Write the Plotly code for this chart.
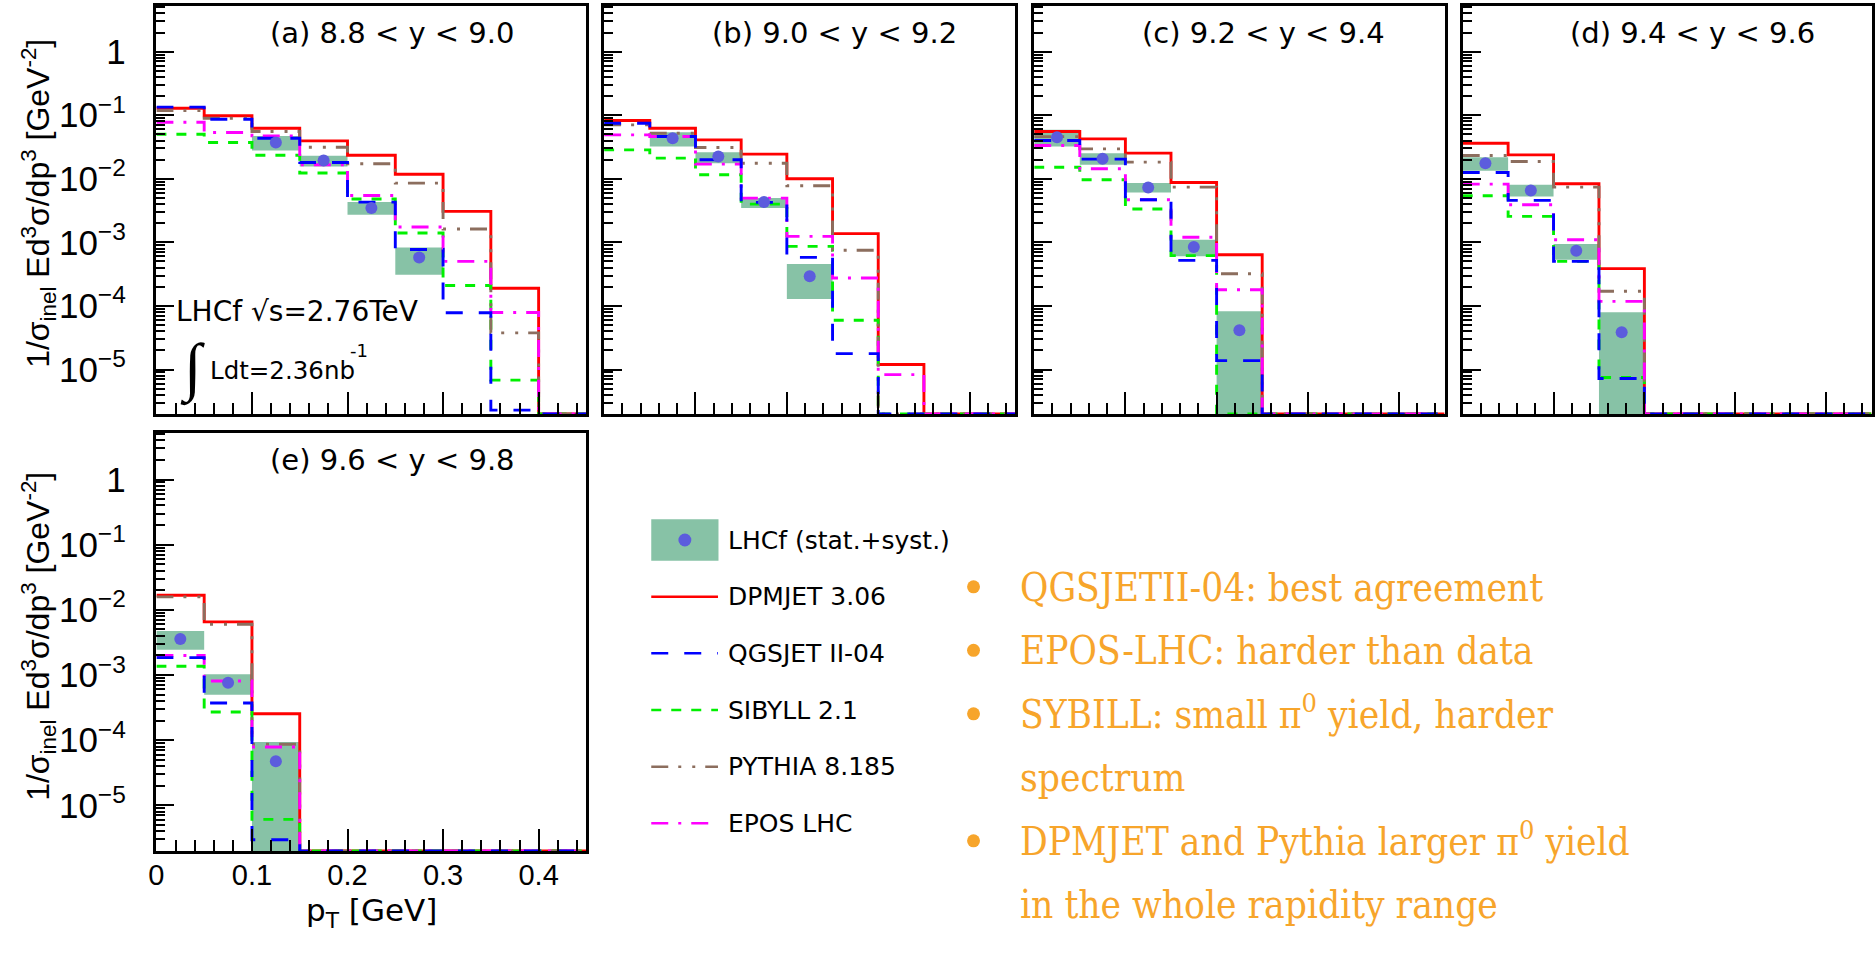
import plotly.graph_objects as go

W, H = 1875, 954

# pT binning shared by every rapidity slice
PT_EDGES = [0.0, 0.05, 0.10, 0.15, 0.20, 0.25, 0.30, 0.35, 0.40, 0.45]

PANEL_TITLES = ["(a) 8.8 < y < 9.0", "(b) 9.0 < y < 9.2", "(c) 9.2 < y < 9.4",
                "(d) 9.4 < y < 9.6", "(e) 9.6 < y < 9.8"]

# Model predictions, one list of 9 bin contents per rapidity slice (0 = empty bin)
DPMJET = [
    [0.129, 0.098, 0.0625, 0.0395, 0.0235, 0.0118, 0.00307, 1.9e-4, 0],
    [0.0824, 0.0625, 0.041, 0.0244, 0.010, 0.00137, 1.2e-5, 0, 0],
    [0.0554, 0.0425, 0.0253, 0.00875, 6.4e-4, 0, 0, 0, 0],
    [0.0363, 0.0238, 0.00834, 3.86e-4, 0, 0, 0, 0, 0],
    [0.01675, 0.00653, 2.55e-4, 0, 0, 0, 0, 0, 0],
]
QGSJET = [
    [0.134, 0.0865, 0.0435, 0.018, 0.0043, 7.7e-4, 7.8e-5, 2.3e-6, 0],
    [0.0748, 0.0462, 0.0199, 0.00425, 5.8e-4, 1.78e-5, 0, 0, 0],
    [0.040, 0.0204, 0.00468, 5.2e-4, 1.38e-5, 0, 0, 0, 0],
    [0.01257, 0.00457, 5.03e-4, 7.2e-6, 0, 0, 0, 0, 0],
    [0.00185, 3.73e-4, 2.97e-6, 0, 0, 0, 0, 0, 0],
]
SIBYLL = [
    [0.0503, 0.0372, 0.0235, 0.0123, 0.0048, 0.0014, 2.1e-4, 6.8e-6, 0],
    [0.0285, 0.0211, 0.01155, 0.0040, 8.65e-4, 5.96e-5, 0, 0, 0],
    [0.0152, 0.00964, 0.00334, 6.18e-4, 0, 0, 0, 0, 0],
    [0.0054, 0.00256, 5.03e-4, 7.5e-6, 0, 0, 0, 0, 0],
    [0.00136, 2.71e-4, 6.1e-6, 0, 0, 0, 0, 0, 0],
]
PYTHIA = [
    [0.118, 0.0897, 0.0554, 0.0314, 0.0172, 0.00855, 0.00162, 3.77e-5, 0],
    [0.0705, 0.0521, 0.031, 0.0176, 0.00776, 7.5e-4, 0, 0, 0],
    [0.046, 0.0296, 0.0183, 0.0074, 3.2e-4, 0, 0, 0, 0],
    [0.0232, 0.0187, 0.0074, 1.7e-4, 0, 0, 0, 0, 0],
    [0.0158, 0.0060, 8.65e-5, 0, 0, 0, 0, 0, 0],
]
EPOS = [
    [0.0776, 0.0534, 0.0473, 0.0166, 0.00547, 0.00174, 5.03e-4, 7.9e-5, 0],
    [0.0491, 0.0462, 0.017, 0.00497, 0.00124, 2.75e-4, 8.3e-6, 0, 0],
    [0.0334, 0.01436, 0.00468, 0.0012, 1.8e-4, 0, 0, 0, 0],
    [0.00824, 0.00391, 0.0011, 1.18e-4, 0, 0, 0, 0, 0],
    [0.00199, 8.1e-4, 7.87e-5, 0, 0, 0, 0, 0, 0],
]

# LHCf measurement: first filled bin, central values and stat.+syst. band limits
LHCF_FIRST_BIN = [2, 1, 0, 0, 0]
LHCF_VALUE = [
    [0.0372, 0.0194, 0.00346, 5.8e-4],
    [0.0435, 0.0224, 0.0043, 2.92e-4],
    [0.0451, 0.0206, 0.00731, 8.45e-4, 4.15e-5],
    [0.0176, 0.00656, 7.4e-4, 3.86e-5],
    [0.00358, 7.64e-4, 4.74e-5],
]
LHCF_LOW = [
    [0.0279, 0.0156, 0.00272, 3.1e-4],
    [0.0322, 0.0176, 0.00346, 1.29e-4],
    [0.0322, 0.0166, 0.0061, 6.03e-4, 0],
    [0.01336, 0.00528, 5.35e-4, 0],
    [0.00245, 5.0e-4, 0],
]
LHCF_HIGH = [
    [0.0473, 0.023, 0.0043, 8.3e-4],
    [0.054, 0.0262, 0.00497, 4.57e-4],
    [0.0589, 0.0253, 0.00855, 0.0011, 8.25e-5],
    [0.0219, 0.00805, 9.4e-4, 7.96e-5],
    [0.00475, 0.00103, 9.4e-5],
]

LEGEND_LABELS = ["LHCf (stat.+syst.)", "DPMJET 3.06", "QGSJET II-04", "SIBYLL 2.1",
                 "PYTHIA 8.185", "EPOS LHC"]

NOTES = [
    "QGSJETII-04: best agreement",
    "EPOS-LHC: harder than data",
    "SYBILL: small \u03c0<sup>0</sup> yield, harder",
    "spectrum",
    "DPMJET and Pythia larger \u03c0<sup>0</sup> yield",
    "in the whole rapidity range",
]
NOTE_BULLETS = [True, True, True, False, True, False]

# ---------------------------------------------------------------- styling
Y_MIN, Y_MAX = -5.70, 0.718
FLOOR = 10 ** Y_MIN
SANS = "DejaVu Sans"
TICK_FONT = dict(family="Liberation Sans", size=28, color="black")
BOX_COLOR = "#87C2A6"
DOT_COLOR = "#5C5CDD"
ORANGE = "#F7A52B"

MODELS = [
    ("DPMJET 3.06", DPMJET, "#FF0000", "solid"),
    ("SIBYLL 2.1", SIBYLL, "#00F000", "10px,10px"),
    ("PYTHIA 8.185", PYTHIA, "#8C6E5E", "17px,10px,3px,11px,3px,10px"),
    ("EPOS LHC", EPOS, "#FF00FF", "17px,10px,3px,10px"),
    ("QGSJET II-04", QGSJET, "#0000FF", "17px,16px"),
]
LEGEND_STYLE = {name: (color, dash) for name, _, color, dash in MODELS}

# frame of each pad in pixels: left, right, top, bottom
PANEL_BOX = [
    (149.2, 581.5, 6.0, 414.0),
    (599.3, 1012.7, 6.0, 414.0),
    (1031.7, 1444.3, 6.0, 414.0),
    (1462.5, 1873.5, 6.0, 414.0),
    (149.2, 581.5, 432.7, 851.0),
]
# vertical centre of the rotated y title for pads (a) and (e)
YTITLE_CENTER = {0: 203.0, 4: 636.0}


def px_x(x):
    return x / W


def px_y(y):
    return 1 - y / H


def clip(v):
    return max(v, FLOOR)


fig = go.Figure()
layout = dict(
    width=W, height=H, margin=dict(l=0, r=0, t=0, b=0),
    paper_bgcolor="white", plot_bgcolor="white", showlegend=False,
    font=dict(family=SANS, color="black"),
)
annotations = []
shapes = []

for i, (l, r, t, b) in enumerate(PANEL_BOX):
    sfx = "" if i == 0 else str(i + 1)
    xname, yname = "x" + sfx, "y" + sfx
    labels = i in (0, 4)
    layout["xaxis" + sfx] = dict(
        domain=[px_x(l), px_x(r)], anchor=yname, range=[0, 0.45],
        tick0=0, dtick=0.1, ticks="inside", ticklen=22, tickwidth=2, tickcolor="black",
        minor=dict(dtick=0.02, tick0=0, ticks="inside", ticklen=11, tickwidth=2,
                   tickcolor="black", showgrid=False),
        showticklabels=(i == 4), tickfont=dict(TICK_FONT, size=29), ticklabelstandoff=-4,
        showline=True, linewidth=3, linecolor="black", mirror=True,
        showgrid=False, zeroline=False, fixedrange=True,
    )
    layout["yaxis" + sfx] = dict(
        domain=[px_y(b), px_y(t)], anchor=xname, type="log", range=[Y_MIN, Y_MAX],
        tick0=0, dtick=1, exponentformat="power", ticks="inside", ticklen=18,
        tickwidth=2, tickcolor="black",
        minor=dict(dtick="D1", ticks="inside", ticklen=9, tickwidth=2,
                   tickcolor="black", showgrid=False),
        showticklabels=labels, tickfont=TICK_FONT, ticklabelstandoff=22,
        showline=True, linewidth=3, linecolor="black", mirror=True,
        showgrid=False, zeroline=False, fixedrange=True,
    )

    # LHCf uncertainty bands
    first = LHCF_FIRST_BIN[i]
    for k, (lo, hi) in enumerate(zip(LHCF_LOW[i], LHCF_HIGH[i])):
        x0, x1 = PT_EDGES[first + k], PT_EDGES[first + k + 1]
        fig.add_trace(go.Scatter(
            x=[x0, x1, x1, x0, x0], y=[clip(lo), clip(lo), hi, hi, clip(lo)],
            mode="lines", fill="toself", fillcolor=BOX_COLOR,
            line=dict(width=0, color=BOX_COLOR), xaxis=xname, yaxis=yname,
            hoverinfo="skip",
        ))

    # model histograms
    for name, table, color, dash in MODELS:
        vals = [clip(v) for v in table[i]]
        fig.add_trace(go.Scatter(
            x=PT_EDGES, y=vals + [vals[-1]], mode="lines", line_shape="hv",
            line=dict(color=color, width=2.9, dash=dash), name=name,
            xaxis=xname, yaxis=yname,
        ))

    # LHCf central values
    centers = [(PT_EDGES[first + k] + PT_EDGES[first + k + 1]) / 2
               for k in range(len(LHCF_VALUE[i]))]
    fig.add_trace(go.Scatter(
        x=centers, y=LHCF_VALUE[i], mode="markers",
        marker=dict(color=DOT_COLOR, size=12, line=dict(width=0)),
        xaxis=xname, yaxis=yname, name="LHCf",
    ))

    # pad title
    scale = (r - l) / 0.45
    annotations.append(dict(
        text=PANEL_TITLES[i], xref="paper", yref="paper",
        x=px_x(l + 0.125 * scale - 8), y=px_y(t + 27.3), xanchor="left", yanchor="middle",
        showarrow=False, font=dict(family=SANS, size=29),
    ))

    if labels:
        annotations.append(dict(
            text="1/\u03c3<sub>inel</sub> Ed<sup>3</sup>\u03c3/dp<sup>3</sup> [GeV<sup>-2</sup>]",
            xref="paper", yref="paper", x=px_x(30), y=px_y(YTITLE_CENTER[i]),
            xanchor="center", yanchor="middle", textangle=-90, showarrow=False,
            font=dict(family="Liberation Sans", size=32),
        ))

# x axis title of the bottom pad
annotations.append(dict(
    text="p<sub>T</sub> [GeV]", xref="paper", yref="paper", x=px_x(365.5), y=px_y(912),
    xanchor="center", yanchor="middle", showarrow=False, font=dict(family=SANS, size=31),
))

# run conditions in pad (a)
annotations += [
    dict(text="LHCf \u221as=2.76TeV", xref="paper", yref="paper", x=px_x(167), y=px_y(311.5),
         xanchor="left", yanchor="middle", showarrow=False, font=dict(family=SANS, size=28)),
    dict(text="\u222b", xref="paper", yref="paper", x=px_x(185), y=px_y(368),
         xanchor="center", yanchor="middle", showarrow=False,
         font=dict(family="Liberation Serif", size=64)),
    dict(text="Ldt=2.36nb", xref="paper", yref="paper", x=px_x(201), y=px_y(371),
         xanchor="left", yanchor="middle", showarrow=False, font=dict(family=SANS, size=24.5)),
    dict(text="-1", xref="paper", yref="paper", x=px_x(342), y=px_y(350),
         xanchor="left", yanchor="middle", showarrow=False, font=dict(family=SANS, size=18)),
]

# legend
LEG_X0, LEG_X1, LEG_TEXT_X = 646.7, 713.8, 722.0
LEG_ROWS = [540.0, 596.7, 653.3, 710.0, 766.7, 823.3]
shapes.append(dict(type="rect", xref="paper", yref="paper",
                   x0=px_x(LEG_X0), x1=px_x(714.3), y0=px_y(560.7), y1=px_y(519.3),
                   fillcolor=BOX_COLOR, line=dict(width=0)))
shapes.append(dict(type="circle", xref="paper", yref="paper",
                   x0=px_x(680.5 - 6.5), x1=px_x(680.5 + 6.5),
                   y0=px_y(540 + 6.5), y1=px_y(540 - 6.5),
                   fillcolor=DOT_COLOR, line=dict(width=0)))
for label, yrow in zip(LEGEND_LABELS, LEG_ROWS):
    if label in LEGEND_STYLE:
        color, dash = LEGEND_STYLE[label]
        shapes.append(dict(type="line", xref="paper", yref="paper",
                           x0=px_x(LEG_X0), x1=px_x(LEG_X1), y0=px_y(yrow), y1=px_y(yrow),
                           line=dict(color=color, width=2.5, dash=dash)))
    annotations.append(dict(text=label, xref="paper", yref="paper",
                            x=px_x(LEG_TEXT_X), y=px_y(yrow), xanchor="left",
                            yanchor="middle", showarrow=False,
                            font=dict(family=SANS, size=25)))

# conclusions
NOTE_FONT = "DejaVu Serif Condensed, DejaVu Serif"
NOTE_SIZE = 38.5
first_baseline, line_step = 602.5, 63.5
for n, (txt, bullet) in enumerate(zip(NOTES, NOTE_BULLETS)):
    base = first_baseline + n * line_step
    annotations.append(dict(text=txt, xref="paper", yref="paper", x=px_x(1015),
                            y=px_y(base + 0.236 * NOTE_SIZE), xanchor="left",
                            yanchor="bottom", showarrow=False,
                            font=dict(family=NOTE_FONT, size=NOTE_SIZE, color=ORANGE)))
    if bullet:
        cy = base - 15.7
        shapes.append(dict(type="circle", xref="paper", yref="paper",
                           x0=px_x(970.7 - 6.5), x1=px_x(970.7 + 6.5),
                           y0=px_y(cy + 6.5), y1=px_y(cy - 6.5),
                           fillcolor=ORANGE, line=dict(width=0)))

layout["annotations"] = annotations
layout["shapes"] = shapes
fig.update_layout(**layout)
fig.write_html("out.html")
